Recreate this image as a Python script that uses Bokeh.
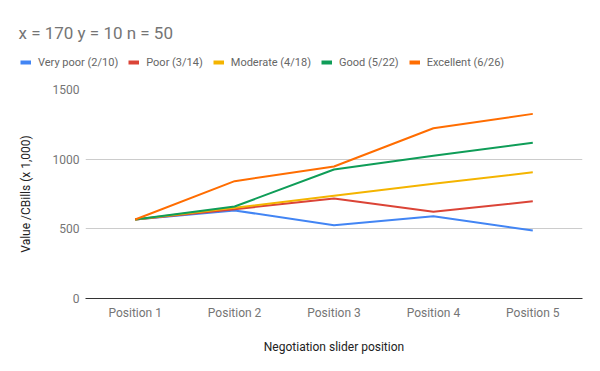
from bokeh.plotting import figure
from bokeh.layouts import column
from bokeh.models import FixedTicker, Legend, LegendItem, Range1d, FactorRange, Label
from bokeh.embed import file_html
from bokeh.resources import INLINE

positions = ["Position 1", "Position 2", "Position 3", "Position 4", "Position 5"]
very_poor = [567, 632, 526, 591, 488]
poor = [567, 641, 718, 622, 698]
moderate = [567, 651, 737, 823, 906]
good = [567, 660, 926, 1024, 1117]
excellent = [567, 842, 947, 1222, 1325]

series_names = ["Very poor (2/10)", "Poor (3/14)", "Moderate (4/18)", "Good (5/22)", "Excellent (6/26)"]
series_values = [very_poor, poor, moderate, good, excellent]
series_colors = ["#4285F4", "#DB4437", "#F4B400", "#0F9D58", "#FF6D01"]
title_text = "x = 170 y = 10 n = 50"

FONT = "Roboto"
TOP_H = 78

# header figure: title + legend
top = figure(width=600, height=TOP_H, x_range=Range1d(0, 600), y_range=Range1d(TOP_H, 0),
             x_axis_type=None, y_axis_type=None, output_backend="svg", toolbar_location=None,
             min_border=0)
top.frame_align = False
top.outline_line_color = None
top.xgrid.visible = False
top.ygrid.visible = False

items = []
for name, col in zip(series_names, series_colors):
    r = top.line(x=[-500, -400], y=[-500, -400], line_color=col, line_width=4)
    items.append(LegendItem(label=name, renderers=[r]))

top.add_layout(Label(x=18, y=32, text=title_text, text_font=FONT, text_font_size="17px",
                     text_color="#757575", text_baseline="middle", text_align="left"))

leg = Legend(items=items, orientation="horizontal", location=(20, 8),
             label_text_font=FONT, label_text_font_size="11px", label_text_color="#666666",
             glyph_width=11, glyph_height=16, label_standoff=7, spacing=10, label_height=16,
             border_line_color=None, background_fill_alpha=0, padding=0, margin=0)
top.add_layout(leg, "center")

# main chart
p = figure(width=600, height=371 - TOP_H, x_range=FactorRange(*positions), y_range=Range1d(0, 1500),
           output_backend="svg", toolbar_location=None,
           min_border_left=85, min_border_right=18, min_border_bottom=73, min_border_top=89 - TOP_H)
p.frame_align = False
p.outline_line_color = None

for vals, col in zip(series_values, series_colors):
    p.line(positions, vals, line_color=col, line_width=2)

p.yaxis.ticker = FixedTicker(ticks=[0, 500, 1000, 1500])
p.yaxis.axis_line_color = None
p.yaxis.major_tick_line_color = None
p.yaxis.minor_tick_line_color = None
p.yaxis.major_tick_out = 0
p.yaxis.major_tick_in = 0
p.yaxis.major_label_text_font = FONT
p.yaxis.major_label_text_font_size = "12px"
p.yaxis.major_label_text_color = "#757575"
p.yaxis.major_label_standoff = 6
p.yaxis.axis_label = "Value /CBills (x 1,000)"
p.yaxis.axis_label_text_font = FONT
p.yaxis.axis_label_text_font_size = "12px"
p.yaxis.axis_label_text_font_style = "normal"
p.yaxis.axis_label_text_color = "#222222"
p.yaxis.axis_label_standoff = 17

p.xaxis.axis_line_color = "#333333"
p.xaxis.axis_line_width = 1
p.xaxis.major_tick_line_color = None
p.xaxis.minor_tick_line_color = None
p.xaxis.major_tick_out = 0
p.xaxis.major_tick_in = 0
p.xaxis.major_label_text_font = FONT
p.xaxis.major_label_text_font_size = "12px"
p.xaxis.major_label_text_color = "#757575"
p.xaxis.major_label_standoff = 7
p.xaxis.axis_label = "Negotiation slider position"
p.xaxis.axis_label_text_font = FONT
p.xaxis.axis_label_text_font_size = "12px"
p.xaxis.axis_label_text_font_style = "normal"
p.xaxis.axis_label_text_color = "#222222"
p.xaxis.axis_label_standoff = 17

p.xgrid.grid_line_color = None
p.ygrid.grid_line_color = "#cccccc"
p.ygrid.ticker = FixedTicker(ticks=[500, 1000, 1500])

layout = column(top, p, spacing=0)
open("out.html", "w").write(file_html(layout, INLINE))
